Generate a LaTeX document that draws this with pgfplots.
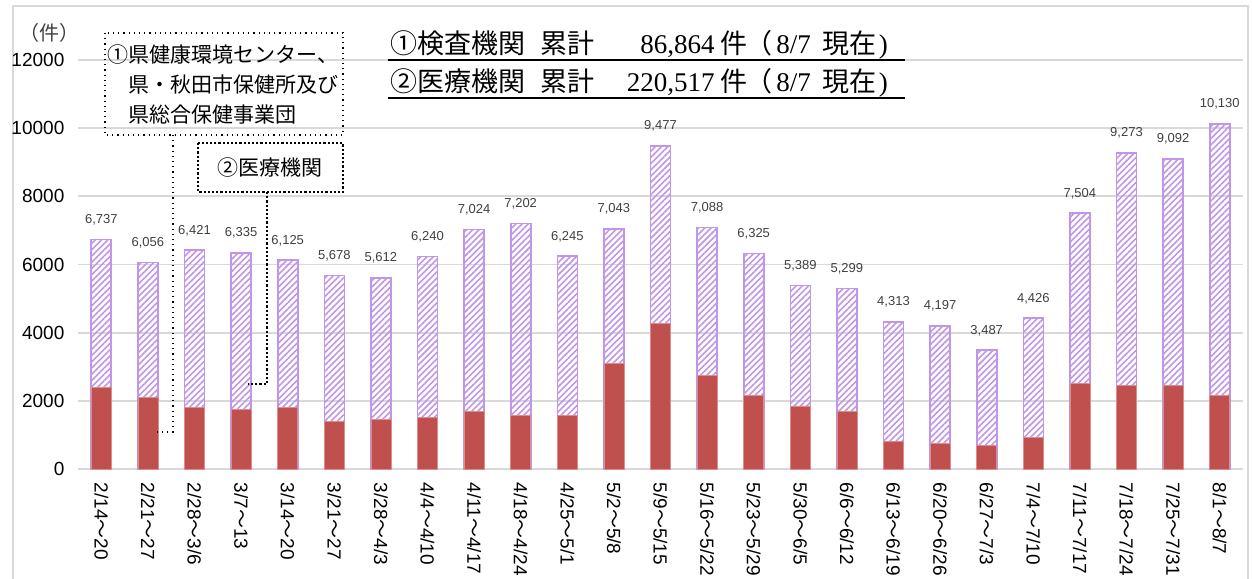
\documentclass[border=0pt]{standalone}
\usepackage{fontspec}
\setmainfont{Liberation Sans}
\newfontfamily\cjk{Noto Sans CJK JP}
\newfontfamily\serif{Liberation Serif}
\usepackage{pgfplots}
\pgfplotsset{compat=1.18}
\usepackage{pgfplotstable}
\usetikzlibrary{patterns.meta}
\definecolor{redbar}{RGB}{192,80,77}
\definecolor{redline}{RGB}{220,140,138}
\definecolor{purp}{RGB}{192,150,232}
\definecolor{gridc}{RGB}{217,217,217}
\definecolor{labc}{RGB}{64,64,64}
\newcommand{\tl}{{\cjk ～}}

% bot = (1) inspection institutions, total = (1)+(2)
\pgfplotstableread{
x bot total lab
0 2400 6737 6,737
1 2100 6056 6,056
2 1810 6421 6,421
3 1740 6335 6,335
4 1800 6125 6,125
5 1390 5678 5,678
6 1460 5612 5,612
7 1500 6240 6,240
8 1690 7024 7,024
9 1560 7202 7,202
10 1565 6245 6,245
11 3100 7043 7,043
12 4280 9477 9,477
13 2740 7088 7,088
14 2150 6325 6,325
15 1850 5389 5,389
16 1690 5299 5,299
17 810 4313 4,313
18 740 4197 4,197
19 680 3487 3,487
20 920 4426 4,426
21 2510 7504 7,504
22 2445 9273 9,273
23 2445 9092 9,092
24 2150 10130 10,130
}\data

\begin{document}
\begin{tikzpicture}
\useasboundingbox (-39pt,-54.5pt) rectangle (587pt,234.5pt);
\draw[gridc, line width=0.6pt] (-32.5pt,-70pt) rectangle (585pt,231.5pt);
\begin{axis}[
  at={(0,0)}, anchor=south west,
  scale only axis, width=582.5pt, height=204.5pt,
  xmin=-0.5, xmax=24.5, ymin=0, ymax=12000,
  ybar, bar width=10pt, bar shift=0pt,
  axis line style={draw=none},
  major tick length=0pt,
  ytick={0,2000,4000,6000,8000,10000,12000},
  ymajorgrids, grid style={gridc, line width=0.9pt},
  xtick={0,...,24},
  xticklabels={{2/14\tl{}20},{2/21\tl{}27},{2/28\tl{}3/6},{3/7\tl{}13},{3/14\tl{}20},{3/21\tl{}27},{3/28\tl{}4/3},{4/4\tl{}4/10},{4/11\tl{}4/17},{4/18\tl{}4/24},{4/25\tl{}5/1},{5/2\tl{}5/8},{5/9\tl{}5/15},{5/16\tl{}5/22},{5/23\tl{}5/29},{5/30\tl{}6/5},{6/6\tl{}6/12},{6/13\tl{}6/19},{6/20\tl{}6/26},{6/27\tl{}7/3},{7/4\tl{}7/10},{7/11\tl{}7/17},{7/18\tl{}7/24},{7/25\tl{}7/31},{8/1\tl{}8/7}},
  xticklabel style={rotate=-90, anchor=west, font=\fontsize{9.5}{10}\selectfont},
  yticklabel style={font=\fontsize{9.5}{10}\selectfont},
  xticklabel shift=3.3pt, yticklabel shift=3.3pt,
  /pgf/number format/assume math mode=true,
  /pgf/number format/1000 sep={},
  scaled y ticks=false,
]
\addplot[pattern={Lines[angle=45,distance=2.2pt,line width=0.8pt]}, pattern color=purp, draw=purp, line width=0.8pt,
  nodes near coords={\pgfplotspointmeta}, point meta=explicit symbolic,
  nodes near coords style={font=\fontsize{6.5}{7}\selectfont, text=labc, anchor=south, yshift=3.5pt}]
  table[x=x,y=total,meta=lab]{\data};
\addplot[fill=redbar, draw=redline, line width=0.4pt] table[x=x,y=bot]{\data};
\end{axis}
% unit label
\node[text=labc, font=\cjk\fontsize{10}{11}\selectfont] at (-14pt,218pt) {（件）};
% title lines
\begin{scope}[every node/.style={inner sep=0pt, font=\fontsize{13.5}{14}\selectfont}]
\node[anchor=base west] at (156pt,207.5pt) {\cjk ①検査機関};
\node[anchor=base west] at (231pt,207.5pt) {\cjk 累計};
\node[anchor=base east] at (318.5pt,207.5pt) {\serif 86,864};
\node[anchor=base west] at (321pt,207.5pt) {\cjk 件};
\node[anchor=base west] at (333.5pt,207.5pt) {{\cjk （}\hspace{2pt}\serif 8/7\hspace{6pt}{\cjk 現在}\hspace{1pt})};
\node[anchor=base west] at (156pt,188.5pt) {\cjk ②医療機関};
\node[anchor=base west] at (231pt,188.5pt) {\cjk 累計};
\node[anchor=base east] at (318.5pt,188.5pt) {\serif 220,517};
\node[anchor=base west] at (321pt,188.5pt) {\cjk 件};
\node[anchor=base west] at (333.5pt,188.5pt) {{\cjk （}\hspace{2pt}\serif 8/7\hspace{6pt}{\cjk 現在}\hspace{1pt})};
\end{scope}
\draw[line width=1.2pt] (155pt,204.5pt) -- (413.5pt,204.5pt);
\draw[line width=1.2pt] (155pt,185.5pt) -- (413.5pt,185.5pt);
% annotation box 1
\draw[dotted, line width=0.6pt] (13.5pt,218pt) rectangle (132.5pt,167pt);
\begin{scope}[every node/.style={inner sep=0pt, anchor=base west, font=\cjk\fontsize{10.5}{11}\selectfont}]
\node at (14.5pt,203pt) {①県健康環境センター、};
\node at (25pt,188pt) {県・秋田市保健所及び};
\node at (25pt,173pt) {県総合保健事業団};
\end{scope}
\draw[dotted, line width=0.6pt] (47.5pt,167pt) -- (47.5pt,18.5pt) -- (38pt,18.5pt);
% annotation box 2
\draw[densely dotted, line width=1.1pt] (60pt,163pt) rectangle (132.5pt,138.5pt);
\node[inner sep=0pt, font=\cjk\fontsize{10.5}{11}\selectfont] at (96pt,150.5pt) {②医療機関};
\draw[densely dotted, line width=1.1pt] (94.5pt,138.5pt) -- (94.5pt,42.5pt) -- (85pt,42.5pt);
\end{tikzpicture}
\end{document}
